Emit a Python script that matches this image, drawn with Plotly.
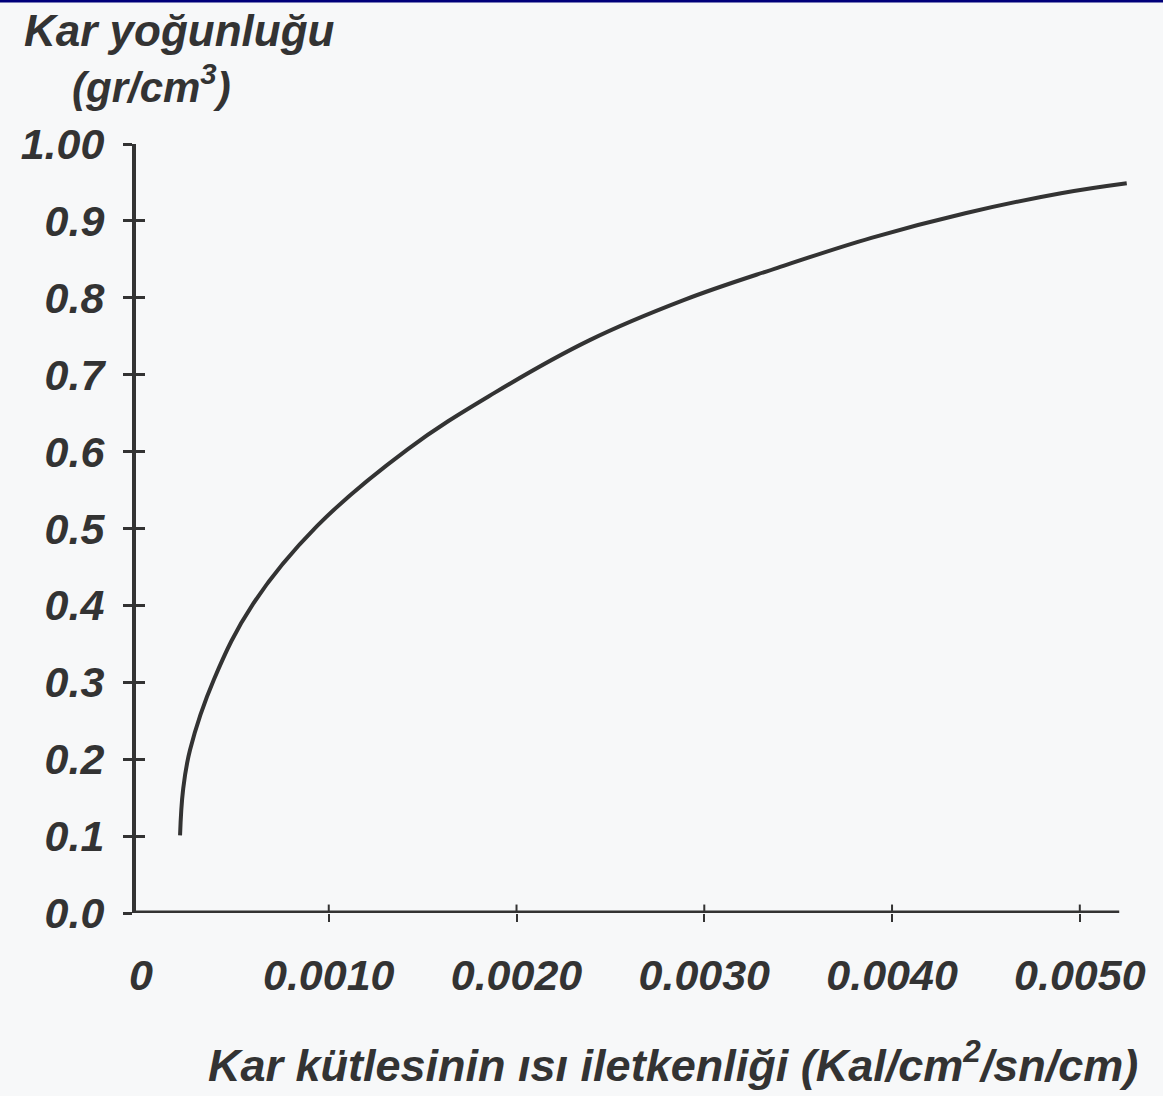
import plotly.graph_objects as go

# Data
conductivity = [0.000208, 0.000224, 0.000261, 0.000389, 0.000597, 0.000937, 0.00142, 0.00188,
                0.00239, 0.00289, 0.00339, 0.00389, 0.00439, 0.00490, 0.00525]
density = [0.101, 0.160, 0.212, 0.304, 0.402, 0.503, 0.603, 0.676,
           0.745, 0.797, 0.839, 0.878, 0.910, 0.936, 0.949]

x_tick_vals = [0, 0.001, 0.002, 0.003, 0.004, 0.005]
x_tick_text = ["0", "0.0010", "0.0020", "0.0030", "0.0040", "0.0050"]
x_mark_vals = [0.001, 0.002, 0.003, 0.004, 0.005]
y_tick_vals = [0.0, 0.1, 0.2, 0.3, 0.4, 0.5, 0.6, 0.7, 0.8, 0.9, 1.0]
y_tick_text = ["0.0", "0.1", "0.2", "0.3", "0.4", "0.5", "0.6", "0.7", "0.8", "0.9", "1.00"]

INK = "#333333"
BG = "#f7f8f9"
FONT = "Liberation Sans, Arial, sans-serif"

x_range = [-0.0000266, 0.005294]
y_range = [0, 1.0]
x_axis_end = 0.00521

fig = go.Figure()
fig.add_trace(go.Scatter(
    x=conductivity, y=density, mode="lines",
    line=dict(color=INK, width=4, shape="spline", smoothing=1.1),
    showlegend=False, hoverinfo="skip"))
# helper trace for the overlay axes (inside tick halves)
fig.add_trace(go.Scatter(x=[0.0025], y=[0.5], xaxis="x2", yaxis="y2", mode="markers",
                         marker=dict(opacity=0), showlegend=False, hoverinfo="skip"))

tick_font = dict(family=FONT, size=43, color=INK)

fig.update_layout(
    width=1163, height=1096,
    margin=dict(l=136, r=28, t=144, b=183),
    paper_bgcolor=BG, plot_bgcolor=BG,
    xaxis=dict(range=x_range, showgrid=False, zeroline=False, showline=False,
               tickvals=x_tick_vals, ticktext=[f"<b><i>{t}</i></b>" for t in x_tick_text],
               ticks="", tickfont=tick_font, ticklabelstandoff=33),
    yaxis=dict(range=y_range, showgrid=False, zeroline=False, showline=True,
               linecolor=INK, linewidth=4,
               tickvals=y_tick_vals, ticktext=[f"<b><i>{t}</i></b>" for t in y_tick_text],
               ticks="outside", ticklen=9, tickwidth=3, tickcolor=INK,
               tickfont=tick_font, ticklabelstandoff=10),
    xaxis2=dict(range=x_range, overlaying="x", anchor="y2", side="bottom",
                showgrid=False, zeroline=False, showline=False, showticklabels=False,
                tickvals=x_mark_vals, ticks="outside", ticklen=8, tickwidth=2, tickcolor=INK),
    yaxis2=dict(range=y_range, overlaying="y", anchor="x2", side="left",
                showgrid=False, zeroline=False, showline=False, showticklabels=False,
                tickvals=y_tick_vals, ticks="inside", ticklen=9, tickwidth=3, tickcolor=INK),
    showlegend=False,
)

# x axis line (stops short of the curve end, as in the original)
fig.add_shape(type="line", xref="x", yref="y", x0=x_range[0], x1=x_axis_end, y0=0, y1=0,
              line=dict(color=INK, width=5))
# inside halves of the x ticks
for v in x_mark_vals:
    fig.add_shape(type="line", xref="x", yref="paper", x0=v, x1=v, y0=0, y1=0.011,
                  line=dict(color=INK, width=2))

# blue edge line at the very top of the scan
fig.add_shape(type="line", xref="paper", yref="paper", x0=-0.2, x1=1.1,
              y0=1 + 143/769, y1=1 + 143/769, line=dict(color="#00007a", width=3))

fig.add_annotation(text="<b><i>Kar yoğunluğu</i></b>", xref="paper", yref="paper",
                   x=-114/999, y=1 + 114/769, xanchor="left", yanchor="middle",
                   showarrow=False, font=dict(family=FONT, size=44, color=INK))
fig.add_annotation(text="<b><i>(gr/cm<sup>3</sup>)</i></b>", xref="paper", yref="paper",
                   x=15/999, y=1 + 60/769, xanchor="center", yanchor="middle",
                   showarrow=False, font=dict(family=FONT, size=42, color=INK))
fig.add_annotation(text="<b><i>Kar kütlesinin ısı iletkenliği (Kal/cm<sup>2</sup>/sn/cm)</i></b>",
                   xref="paper", yref="paper", x=537/999, y=-149/769,
                   xanchor="center", yanchor="middle",
                   showarrow=False, font=dict(family=FONT, size=45, color=INK))

fig.write_html("out.html")
